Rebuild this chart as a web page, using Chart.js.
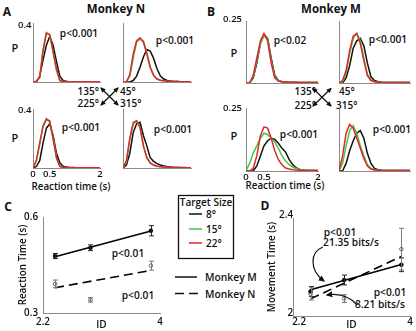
<!DOCTYPE html>
<html><head><meta charset="utf-8">
<script src="https://cdn.jsdelivr.net/npm/chart.js@4/dist/chart.umd.min.js"></script>
<style>
html,body{margin:0;padding:0;background:#fff;}
body{width:416px;height:331px;position:relative;overflow:hidden;font-family:'Open Sans',sans-serif;color:#111;}
canvas{position:absolute;}
.t{position:absolute;white-space:nowrap;transform:translate(-50%,-50%);line-height:1;font-weight:600;font-size:10px;}
.r{transform:translate(-100%,-50%);}
.l{transform:translate(0,-50%);}
.pl{font-size:10.2px;}
.lab{font-size:12px;font-weight:700;}
.yt{font-size:9.5px;z-index:6;}
</style></head><body>

<!-- panel letters and titles -->
<div class="t lab" style="left:7px;top:12px">A</div>
<div class="t lab" style="left:211px;top:12px">B</div>
<div class="t lab" style="left:8px;top:207px">C</div>
<div class="t lab" style="left:265px;top:206px">D</div>
<div class="t" style="left:116px;top:9px;font-size:11.5px;font-weight:700">Monkey N</div>
<div class="t" style="left:331px;top:9px;font-size:11.5px;font-weight:700">Monkey M</div>

<!-- histogram annotations -->
<div class="t" style="left:15px;top:47px;font-size:11px">P</div>
<div class="t" style="left:15px;top:137px;font-size:11px">P</div>
<div class="t" style="left:234px;top:52px;font-size:11px">P</div>
<div class="t" style="left:234px;top:135px;font-size:11px">P</div>
<div class="t pl" style="left:79px;top:33px">p&lt;0.001</div>
<div class="t pl" style="left:175px;top:40px">p&lt;0.001</div>
<div class="t pl" style="left:81px;top:127px">p&lt;0.001</div>
<div class="t pl" style="left:173px;top:129px">p&lt;0.001</div>
<div class="t pl" style="left:290px;top:40px">p&lt;0.02</div>
<div class="t pl" style="left:388px;top:39px">p&lt;0.001</div>
<div class="t pl" style="left:299px;top:134px">p&lt;0.001</div>
<div class="t pl" style="left:392px;top:129px">p&lt;0.001</div>
<div class="t r" style="left:99px;top:91px">135°</div>
<div class="t l" style="left:120px;top:91px">45°</div>
<div class="t r" style="left:99px;top:103px">225°</div>
<div class="t l" style="left:120px;top:103px">315°</div>
<div class="t r" style="left:316px;top:91px">135°</div>
<div class="t l" style="left:339px;top:91px">45°</div>
<div class="t r" style="left:316px;top:105px">225°</div>
<div class="t l" style="left:336px;top:105px">315°</div>
<div class="t" style="left:71px;top:187px;font-size:9.8px">Reaction time (s)</div>
<div class="t" style="left:285px;top:186px;font-size:9.8px">Reaction time (s)</div>

<!-- C / D annotations -->
<div class="t pl" style="left:128px;top:253px">p&lt;0.01</div>
<div class="t pl" style="left:138px;top:295px">p&lt;0.01</div>
<div class="t pl" style="left:340px;top:232px">p&lt;0.01</div>
<div class="t pl" style="left:351px;top:242px">21.35 bits/s</div>
<div class="t pl" style="left:390px;top:292px">p&lt;0.01</div>
<div class="t pl" style="left:380px;top:304px">8.21 bits/s</div>

<!-- legends -->
<div class="t" style="left:206px;top:202px">Target Size</div>
<div class="t l" style="left:206px;top:214px">8°</div>
<div class="t l" style="left:206px;top:229px">15°</div>
<div class="t l" style="left:206px;top:243px">22°</div>
<div class="t l" style="left:205px;top:277px;font-size:10.3px">Monkey M</div>
<div class="t l" style="left:205px;top:294px;font-size:10.3px">Monkey N</div>

<svg width="416" height="331" style="position:absolute;left:0;top:0;pointer-events:none;z-index:5">
<defs>
<marker id="ah" viewBox="0 0 10 10" refX="8" refY="5" markerWidth="4.5" markerHeight="4.5" orient="auto-start-reverse"><path d="M0,0.5L10,5L0,9.5z" fill="#111"/></marker>
<marker id="ah2" viewBox="0 0 10 10" refX="8" refY="5" markerWidth="5.5" markerHeight="5.5" orient="auto-start-reverse"><path d="M0,0.5L10,5L0,9.5z" fill="#111"/></marker>
</defs>
<g stroke="#111" stroke-width="1.2" fill="none">
<line x1="101" y1="88" x2="118" y2="105" marker-start="url(#ah)" marker-end="url(#ah)"/>
<line x1="118" y1="88" x2="101" y2="105" marker-start="url(#ah)" marker-end="url(#ah)"/>
<line x1="313" y1="88.5" x2="331" y2="106" marker-start="url(#ah)" marker-end="url(#ah)"/>
<line x1="331" y1="88.5" x2="313" y2="106" marker-start="url(#ah)" marker-end="url(#ah)"/>
<path d="M323,247 C310,252 309,270 324,281" marker-end="url(#ah2)"/>
<path d="M357,305 C350,297 340,293 327,295" marker-end="url(#ah2)"/>
<rect x="178.5" y="195.5" width="55" height="63" stroke-width="1.3"/>
</g>
<g stroke-width="1.5">
<line x1="189" y1="214" x2="202" y2="214" stroke="#111"/>
<line x1="189" y1="229" x2="202" y2="229" stroke="#44c944"/>
<line x1="189" y1="243" x2="202" y2="243" stroke="#e3262b"/>
<line x1="175" y1="277" x2="197" y2="277" stroke="#111"/>
<line x1="175" y1="293.5" x2="198" y2="293.5" stroke="#111" stroke-dasharray="9,5"/>
</g>
</svg>

<script>
// ---------------- data ----------------
const tSec = [0,0.1,0.2,0.3,0.4,0.5,0.6,0.7,0.8,0.9,1.0,1.1,1.2,1.3,1.4,1.5,1.6,1.7,1.8,1.9,2.0];
const targetSizes = ['8°','15°','22°'];
const pMaxN = 0.4;   // y-axis top, Monkey N histograms
const pMaxM = 0.25;  // y-axis top, Monkey M histograms

// Monkey N (panel A) reaction time distributions
const n135_8  = [0,0,0.04,0.15,0.25,0.31,0.25,0.14,0.04,0.01,0.004,0.002,0.002,0.001,0.001,0.001,0.001,0.001,0.001,0.001,0.001];
const n135_15 = [0,0.005,0.035,0.22,0.335,0.32,0.2,0.08,0.012,0.004,0.003,0.002,0.002,0.001,0.001,0.001,0.001,0.001,0.001,0.001,0.001];
const n135_22 = [0,0.005,0.03,0.21,0.33,0.32,0.21,0.09,0.01,0.004,0.003,0.002,0.002,0.001,0.001,0.001,0.001,0.001,0.001,0.001,0.001];
const n45_8   = [0,0,0,0.01,0.04,0.1,0.17,0.22,0.21,0.16,0.09,0.04,0.02,0.01,0.006,0.004,0.003,0.002,0.002,0.002,0.001];
const n45_15  = [0,0,0.04,0.16,0.27,0.29,0.28,0.2,0.1,0.045,0.02,0.012,0.008,0.005,0.004,0.003,0.003,0.002,0.002,0.002,0.001];
const n45_22  = [0,0,0.05,0.19,0.28,0.3,0.27,0.19,0.1,0.045,0.02,0.012,0.008,0.005,0.004,0.003,0.003,0.002,0.002,0.002,0.001];
const n225_8  = [0,0.01,0.05,0.17,0.27,0.3,0.22,0.1,0.035,0.012,0.006,0.004,0.003,0.002,0.002,0.001,0.001,0.001,0.001,0.001,0.001];
const n225_15 = [0,0.05,0.16,0.29,0.335,0.31,0.2,0.07,0.012,0.004,0.003,0.002,0.002,0.001,0.001,0.001,0.001,0.001,0.001,0.001,0.001];
const n225_22 = [0,0.05,0.17,0.28,0.33,0.32,0.2,0.07,0.01,0.004,0.003,0.002,0.002,0.001,0.001,0.001,0.001,0.001,0.001,0.001,0.001];
const n315_8  = [0,0.02,0.1,0.24,0.3,0.31,0.22,0.15,0.07,0.045,0.03,0.02,0.014,0.01,0.007,0.005,0.004,0.003,0.003,0.002,0.002];
const n315_15 = [0,0.04,0.19,0.31,0.32,0.27,0.15,0.07,0.035,0.02,0.012,0.008,0.006,0.005,0.004,0.003,0.003,0.002,0.002,0.002,0.002];
const n315_22 = [0,0.05,0.2,0.3,0.32,0.28,0.15,0.07,0.035,0.02,0.012,0.008,0.006,0.005,0.004,0.003,0.003,0.002,0.002,0.002,0.002];

// Monkey M (panel B) reaction time distributions
const m135_8  = [0,0,0.02,0.08,0.16,0.195,0.18,0.1,0.03,0.01,0.005,0.004,0.003,0.003,0.002,0.002,0.002,0.002,0.002,0.002,0.002];
const m135_15 = [0,0,0.025,0.09,0.16,0.19,0.18,0.09,0.025,0.01,0.005,0.004,0.003,0.003,0.002,0.002,0.002,0.002,0.002,0.002,0.002];
const m135_22 = [0,0,0.03,0.1,0.17,0.2,0.17,0.08,0.02,0.008,0.005,0.004,0.003,0.003,0.003,0.002,0.002,0.002,0.002,0.002,0.002];
const m45_8   = [0,0,0.02,0.07,0.14,0.17,0.18,0.15,0.08,0.025,0.01,0.005,0.003,0.002,0.002,0.002,0.002,0.002,0.002,0.002,0.002];
const m45_15  = [0,0.005,0.04,0.12,0.18,0.2,0.17,0.1,0.035,0.012,0.005,0.003,0.002,0.002,0.002,0.002,0.002,0.002,0.002,0.002,0.002];
const m45_22  = [0,0.01,0.05,0.13,0.19,0.2,0.16,0.09,0.03,0.01,0.005,0.003,0.002,0.002,0.002,0.002,0.002,0.002,0.002,0.002,0.002];
const m225_8  = [0,0,0,0.02,0.06,0.1,0.12,0.13,0.125,0.11,0.09,0.075,0.045,0.025,0.012,0.006,0.003,0.002,0.002,0.002,0.002];
const m225_15 = [0,0.03,0.07,0.1,0.13,0.15,0.145,0.13,0.115,0.09,0.06,0.04,0.025,0.015,0.01,0.006,0.004,0.003,0.002,0.002,0.002];
const m225_22 = [0,0,0.01,0.06,0.14,0.175,0.17,0.13,0.08,0.045,0.025,0.012,0.008,0.005,0.004,0.003,0.003,0.002,0.002,0.002,0.002];
const m315_8  = [0,0,0.03,0.08,0.12,0.15,0.16,0.13,0.07,0.03,0.01,0.005,0.003,0.002,0.002,0.002,0.002,0.002,0.002,0.002,0.002];
const m315_15 = [0,0.03,0.1,0.16,0.18,0.15,0.1,0.06,0.025,0.01,0.005,0.003,0.002,0.002,0.002,0.002,0.002,0.002,0.002,0.002,0.002];
const m315_22 = [0,0.06,0.15,0.185,0.17,0.13,0.09,0.05,0.02,0.008,0.004,0.003,0.002,0.002,0.002,0.002,0.002,0.002,0.002,0.002,0.002];

// Panel C / D: index of difficulty
const ids    = [2.385, 2.93, 3.86];
const fitIds = [2.385, 3.86];
const rtM    = [0.478, 0.504, 0.557];
const rtMErr = [0.008, 0.009, 0.016];
const rtN    = [0.391, 0.341, 0.448];
const rtNErr = [0.012, 0.007, 0.014];
const rtFitM = [0.476, 0.556];
const rtFitN = [0.379, 0.433];
const mtM    = [2.100, 2.147, 2.209];
const mtMErr = [0.02, 0.02, 0.028];
const mtN    = [2.090, 2.071, 2.273];
const mtNErr = [0.025, 0.016, 0.085];
const mtFitM = [2.107, 2.210];
const mtFitN = [2.070, 2.243];

const histTicksX = [0, 0.5, 2];
const rtTicks = [0.3, 0.6];
const mtTicks = [2, 2.4];
const idTicks = [2.2, 4];

// ---------------- drawing ----------------
const BLACK='#111', GREEN='#44c944', RED='#e3262b', AXIS='#8a8a8a';
Chart.defaults.font.family = "'Open Sans', sans-serif";
Chart.defaults.color = '#111';

function place(L,T,R,B,pl,pt,pr,pb){
  const c=document.createElement('canvas');
  const w=R-L+pl+pr, h=B-T+pt+pb;
  c.width=w; c.height=h;
  c.style.left=(L-pl)+'px'; c.style.top=(T-pt)+'px';
  c.style.width=w+'px'; c.style.height=h+'px';
  document.body.appendChild(c);
  return c;
}
const xy = (xs, ys) => xs.map((x,i)=>({x:x, y:ys[i]}));
const tickList = arr => s => { s.ticks = arr.map(v=>({value:v})); };

function hist(L,T,R,B,ymax,s8,s15,s22,showY,showX,yPad,yLabDy){
  const pl = showY?30:2, pt=6, pr=3, pb=showX?14:2;
  const c = place(L,T,R,B,pl,pt,pr,pb);
  const ch = new Chart(c,{type:'line',
    data:{datasets:[
      {label:targetSizes[2], data:xy(tSec,s22), borderColor:RED},
      {label:targetSizes[1], data:xy(tSec,s15), borderColor:GREEN},
      {label:targetSizes[0], data:xy(tSec,s8),  borderColor:BLACK}]},
    options:{responsive:false, animation:false, events:[],
      layout:{padding:{left:0,top:pt,right:pr,bottom:0}},
      plugins:{legend:{display:false},tooltip:{enabled:false}},
      elements:{point:{radius:0},line:{borderWidth:1.5,tension:0}},
      scales:{
        x:{type:'linear',min:0,max:2,afterBuildTicks:tickList(histTicksX),
           ticks:{display:showX,padding:1,font:{size:9.5,weight:'600'},color:'#111',maxRotation:0,callback:v=>String(v)},
           grid:{display:false,drawTicks:false},border:{display:true,color:AXIS,width:1},
           afterFit:s=>{s.height=pb;s.paddingLeft=0;s.paddingRight=0;}},
        y:{type:'linear',min:0,max:ymax,afterBuildTicks:tickList([0,ymax]),
           ticks:{display:false},
           grid:{display:false,drawTicks:false},border:{display:true,color:AXIS,width:1},
           afterFit:s=>{s.width=pl;s.paddingTop=0;s.paddingBottom=0;}}
      }}});
  if(showY){
    // top tick label of the y axis, placed at the scale's pixel for ymax
    const ys = ch.scales.y;
    const d = document.createElement('div');
    d.className = 't r yt';
    d.textContent = String(ymax);
    d.style.left = (L - yPad) + 'px';
    d.style.top = (T - pt + ys.getPixelForValue(ymax) + yLabDy) + 'px';
    document.body.appendChild(d);
  }
}

// Panel A (Monkey N)
hist(33,23,100,82,pMaxN, n135_8,n135_15,n135_22, true,false,1.5,1.5);
hist(123,23,191,82,pMaxN, n45_8,n45_15,n45_22, false,false,0,0);
hist(33,109,100,168,pMaxN, n225_8,n225_15,n225_22, true,true,1.5,1);
hist(123,109,191,168,pMaxN, n315_8,n315_15,n315_22, false,false,0,0);
// Panel B (Monkey M)
hist(246,21,318,83,pMaxM, m135_8,m135_15,m135_22, true,false,4,-2.5);
hist(339,21,410,83,pMaxM, m45_8,m45_15,m45_22, false,false,0,0);
hist(246,108,318,171,pMaxM, m225_8,m225_15,m225_22, true,true,4,0);
hist(339,108,410,171,pMaxM, m315_8,m315_15,m315_22, false,false,0,0);

const errorBars = {
  id:'errorBars',
  afterDatasetsDraw(chart){
    const {ctx, scales:{x,y}} = chart;
    chart.data.datasets.forEach(ds=>{
      if(!ds.errors) return;
      ctx.save(); ctx.strokeStyle = ds.errColor; ctx.lineWidth = 1;
      ds.data.forEach((p,i)=>{
        const px = Math.round(x.getPixelForValue(p.x))+0.5;
        const e = ds.errors[i];
        const y1 = y.getPixelForValue(p.y-e), y2 = y.getPixelForValue(p.y+e);
        ctx.beginPath();
        ctx.moveTo(px,y1); ctx.lineTo(px,y2);
        ctx.moveTo(px-2.5,y1); ctx.lineTo(px+2.5,y1);
        ctx.moveTo(px-2.5,y2); ctx.lineTo(px+2.5,y2);
        ctx.stroke();
      });
      ctx.restore();
    });
  }
};

function idChart(rect, pads, yMin, yMax, yTicks, xMin, yTitle, yTitlePad, yTickPad, yLabelOffset, xTickPad, M, MErr, N, NErr, FM, FN){
  const [L,T,R,B] = rect, [pl,pt,pr,pb] = pads;
  const c = place(L,T,R,B,pl,pt,pr,pb);
  const tickFont = {size:9.8, weight:'600'};
  new Chart(c,{type:'line',
    data:{datasets:[
      {label:'Monkey M', data:xy(ids,M), showLine:false, pointRadius:2, pointBackgroundColor:'#000', pointBorderColor:'#000', pointBorderWidth:0.5, errors:MErr, errColor:'#222'},
      {label:'Monkey N', data:xy(ids,N), showLine:false, pointRadius:1.8, pointBackgroundColor:'#fff', pointBorderColor:'#666', pointBorderWidth:1, errors:NErr, errColor:'#777'},
      {label:'Monkey M fit', data:xy(fitIds,FM), borderColor:'#000', borderWidth:1.6, pointRadius:0},
      {label:'Monkey N fit', data:xy(fitIds,FN), borderColor:'#000', borderWidth:1.6, borderDash:[9,5], pointRadius:0}
    ]},
    plugins:[errorBars],
    options:{responsive:false, animation:false, events:[],
      layout:{padding:{left:0,top:pt,right:pr,bottom:0}},
      plugins:{legend:{display:false},tooltip:{enabled:false}},
      scales:{
        x:{type:'linear',min:xMin,max:4,afterBuildTicks:tickList(idTicks),
           ticks:{padding:xTickPad,font:tickFont,color:'#111',maxRotation:0,callback:v=>String(v)},
           title:{display:true,text:'ID',font:{size:10,weight:'600'},color:'#111',padding:{top:0,bottom:0}},
           grid:{display:false,drawTicks:false},border:{display:true,color:AXIS,width:1},
           afterFit:s=>{s.height=pb;s.paddingLeft=0;s.paddingRight=0;}},
        y:{type:'linear',min:yMin,max:yMax,afterBuildTicks:tickList(yTicks),
           ticks:{padding:yTickPad,labelOffset:yLabelOffset,font:tickFont,color:'#111',callback:v=>String(v)},
           title:{display:true,text:yTitle,font:{size:9.8,weight:'600'},color:'#111',padding:{top:yTitlePad,bottom:0}},
           grid:{display:false,drawTicks:false},border:{display:true,color:AXIS,width:1},
           afterFit:s=>{s.width=pl;s.paddingTop=0;s.paddingBottom=0;}}
      }}});
}

// Panel C: reaction time vs ID
idChart([43,217,160,313],[43,9,6,18],0.3,0.6,rtTicks,2.2,'Reaction Time (s)',17.5,5,0,3,
        rtM,rtMErr,rtN,rtNErr,rtFitM,rtFitN);
// Panel D: movement time vs ID
idChart([293,218,410,316],[31,8,6,15],2.0,2.4,mtTicks,2.1,'Movement Time (s)',4,0,-3,0,
        mtM,mtMErr,mtN,mtNErr,mtFitM,mtFitN);
</script>
</body></html>
